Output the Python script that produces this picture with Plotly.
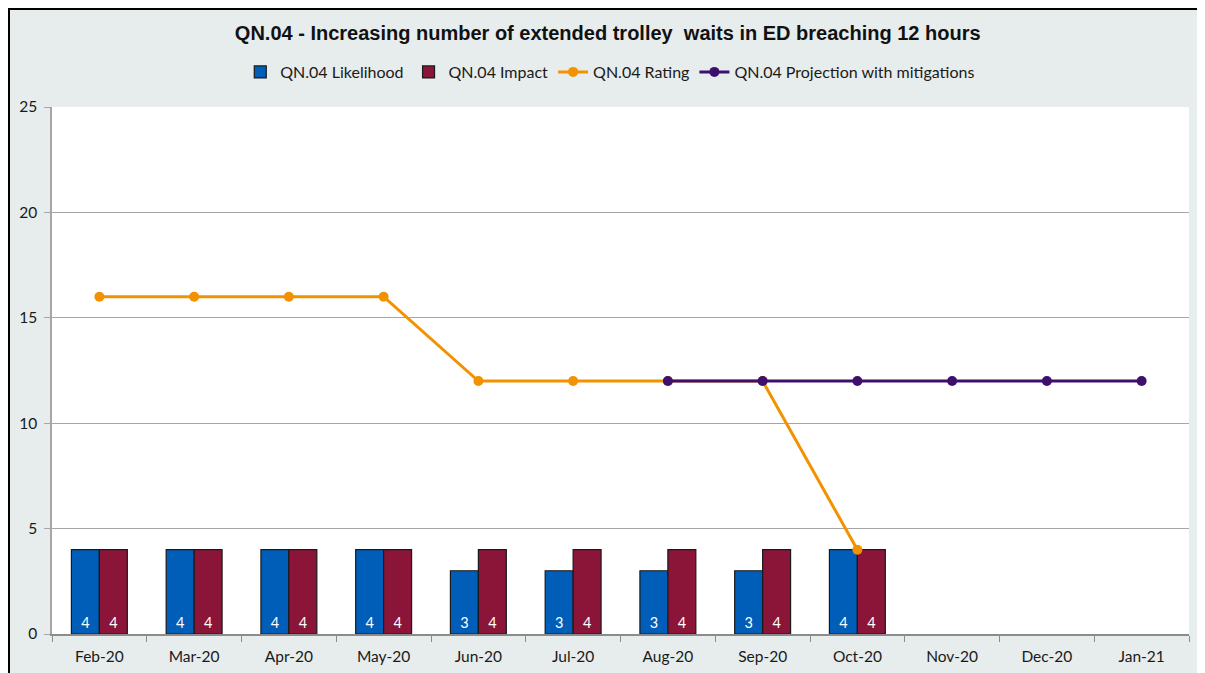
import plotly.graph_objects as go

months = ["Feb-20", "Mar-20", "Apr-20", "May-20", "Jun-20", "Jul-20", "Aug-20",
          "Sep-20", "Oct-20", "Nov-20", "Dec-20", "Jan-21"]
likelihood = [4, 4, 4, 4, 3, 3, 3, 3, 4, None, None, None]
impact = [4, 4, 4, 4, 4, 4, 4, 4, 4, None, None, None]
rating = [16, 16, 16, 16, 12, 12, 12, 12, 4, None, None, None]
projection = [None, None, None, None, None, None, 12, 12, 12, 12, 12, 12]

# page body has an 8px margin, so the figure is placed at (8, 8)
W, H = 1197, 665
L, R, T, B = 44, 16, 99, 39
PW, PH = W - L - R, H - T - B

fig = go.Figure()
fig.add_trace(go.Bar(x=months, y=likelihood, name="QN.04 Likelihood",
                     marker=dict(color="#005EB8", line=dict(color="#1a1a1a", width=1.2)),
                     texttemplate="%{y}", textposition="inside",
                     insidetextanchor="start",
                     textfont=dict(color="white", size=14.5, family="Lato")))
fig.add_trace(go.Bar(x=months, y=impact, name="QN.04 Impact",
                     marker=dict(color="#8B1538", line=dict(color="#1a1a1a", width=1.2)),
                     texttemplate="%{y}", textposition="inside",
                     insidetextanchor="start",
                     textfont=dict(color="white", size=14.5, family="Lato")))
fig.add_trace(go.Scatter(x=months, y=rating, name="QN.04 Rating", mode="lines+markers",
                         line=dict(color="#F39200", width=3),
                         marker=dict(color="#F39200", size=10)))
fig.add_trace(go.Scatter(x=months, y=projection, name="QN.04 Projection with mitigations",
                         mode="lines+markers",
                         line=dict(color="#3F0F6E", width=3),
                         marker=dict(color="#3F0F6E", size=10)))

fig.update_layout(
    width=W, height=H,
    margin=dict(l=L, r=R, t=T, b=B),
    paper_bgcolor="white",
    plot_bgcolor="white",
    barmode="group",
    bargap=0.41,
    bargroupgap=0,
    font=dict(family="Lato", size=15, color="#1a1a1a"),
    title=dict(text="<b>QN.04 - Increasing number of extended trolley  waits in ED breaching 12 hours</b>",
               x=0.501, xref="container", xanchor="center",
               y=1 - 25 / H, yref="container", yanchor="middle",
               font=dict(family="Liberation Sans", size=20, color="#111111")),
    legend=dict(orientation="h", x=0.491, xanchor="center", y=1 + (T - 64) / PH,
                yanchor="middle", bgcolor="rgba(0,0,0,0)",
                font=dict(family="Lato", size=16, color="#1a1a1a"),
                traceorder="normal", itemwidth=30),
    showlegend=True,
    shapes=[
        dict(type="rect", xref="paper", yref="paper",
             x0=(1 - L) / PW, x1=1 + (R + 5) / PW,
             y0=-(B + 5) / PH, y1=1 + (T - 1) / PH,
             fillcolor="#E7ECEC", line=dict(color="#000000", width=2), layer="below"),
        dict(type="rect", xref="paper", yref="paper", x0=0, x1=1, y0=0, y1=1,
             fillcolor="white", line=dict(width=0), layer="below"),
    ],
)
fig.update_xaxes(type="category", range=[-0.5, len(months) - 0.5], automargin=False,
                 showgrid=False, showline=True, linecolor="#8c8c8c",
                 linewidth=1.5, ticks="outside", tickson="boundaries", ticklen=6,
                 tickcolor="#8c8c8c", tickfont=dict(family="Lato", size=15.5, color="#1a1a1a"),
                 ticklabelstandoff=8, mirror=False)
fig.update_yaxes(range=[0, 25], dtick=5, showgrid=True, gridcolor="#a6a6a6", gridwidth=1,
                 showline=True, linecolor="#a6a6a6", linewidth=1.5, ticks="outside",
                 ticklen=6, tickcolor="#a6a6a6", zeroline=False, ticklabelstandoff=4,
                 automargin=False,
                 tickfont=dict(family="Lato", size=15.5, color="#1a1a1a"))

fig.write_html("out.html")
